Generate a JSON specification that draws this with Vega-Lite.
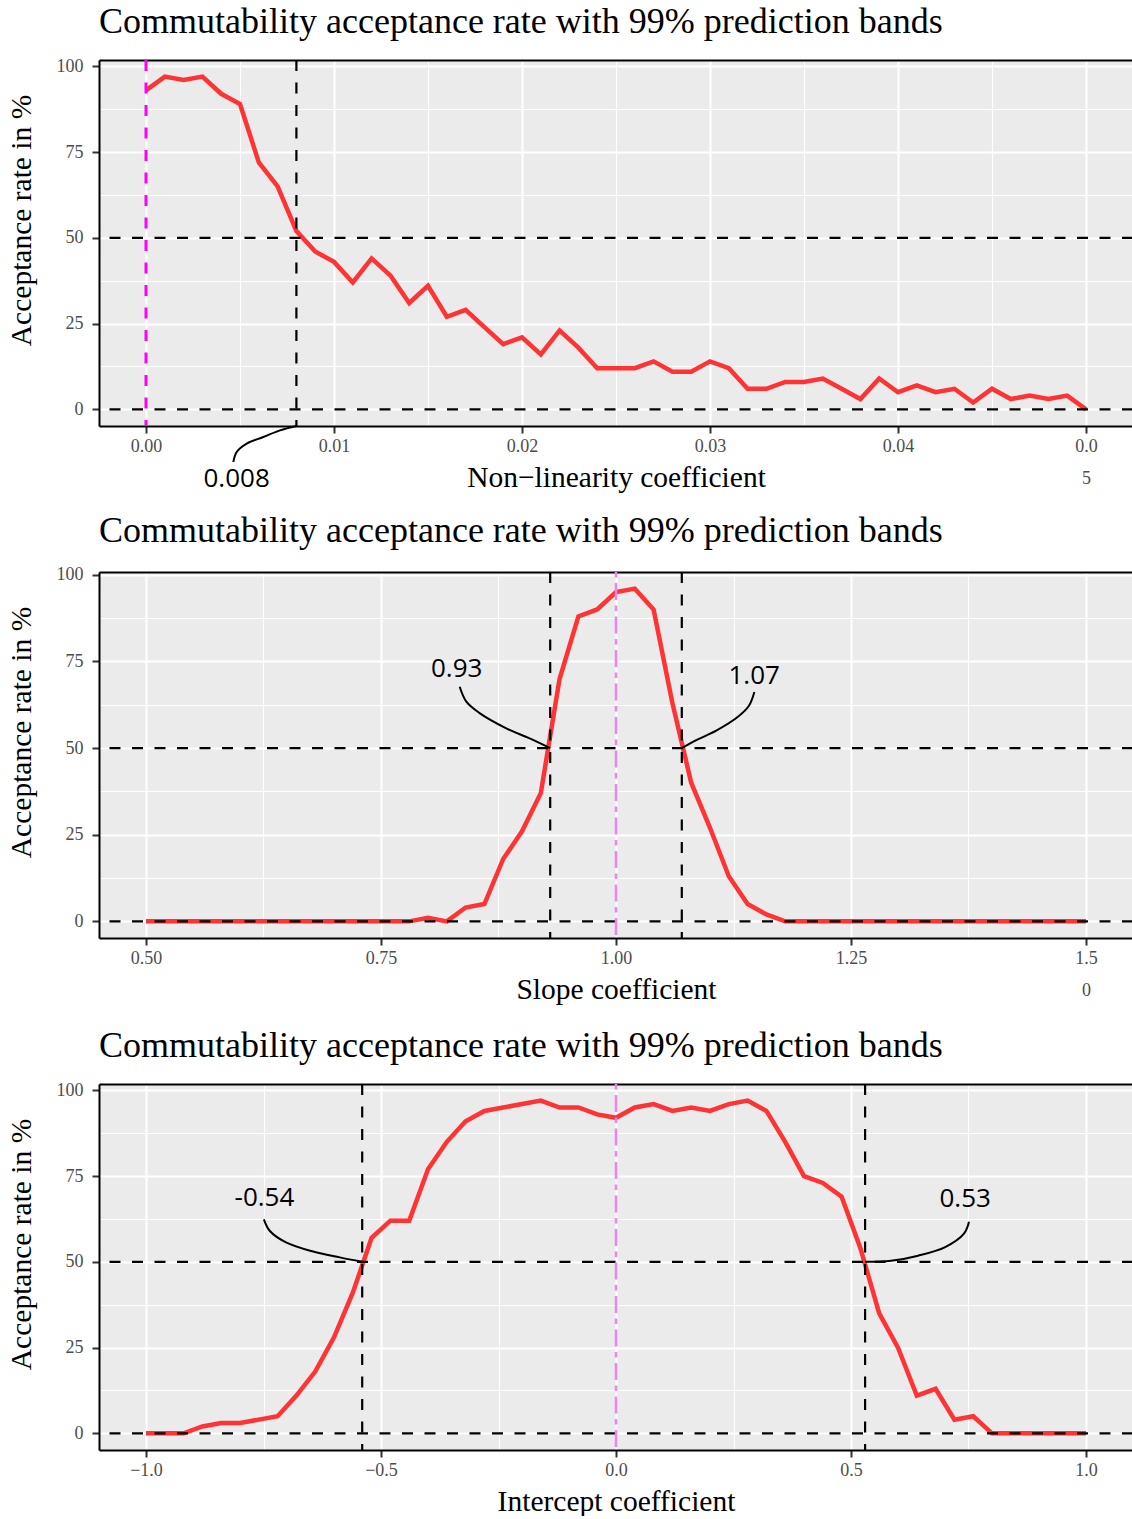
{
  "$schema": "https://vega.github.io/schema/vega-lite/v6.json",
  "background": "white",
  "padding": {"left": 6, "top": 4, "right": 0, "bottom": 0},
  "bounds": "flush",
  "spacing": 146,
  "config": {
    "font": "Liberation Serif",
    "view": {"fill": "#ebebeb", "stroke": null},
    "title": {"font": "Liberation Serif", "fontSize": 36, "fontWeight": "normal", "color": "black", "anchor": "start", "frame": "group", "offset": 16},
    "axis": {
      "labelFont": "Liberation Serif", "labelFontSize": 18, "labelColor": "#4d4d4d",
      "titleFont": "Liberation Serif", "titleFontSize": 29.5, "titleFontWeight": "normal", "titleColor": "black",
      "domainColor": "black", "domainWidth": 2, "tickColor": "#333333", "tickWidth": 2, "tickSize": 7,
      "gridColor": "white", "gridWidth": 2, "labelFlush": false, "labelOverlap": false
    }
  },
  "datasets": {
    "nonlinearity": [
      {"x": 0.000, "rate": 93}, {"x": 0.001, "rate": 97}, {"x": 0.002, "rate": 96}, {"x": 0.003, "rate": 97},
      {"x": 0.004, "rate": 92}, {"x": 0.005, "rate": 89}, {"x": 0.006, "rate": 72}, {"x": 0.007, "rate": 65},
      {"x": 0.008, "rate": 52}, {"x": 0.009, "rate": 46}, {"x": 0.010, "rate": 43}, {"x": 0.011, "rate": 37},
      {"x": 0.012, "rate": 44}, {"x": 0.013, "rate": 39}, {"x": 0.014, "rate": 31}, {"x": 0.015, "rate": 36},
      {"x": 0.016, "rate": 27}, {"x": 0.017, "rate": 29}, {"x": 0.018, "rate": 24}, {"x": 0.019, "rate": 19},
      {"x": 0.020, "rate": 21}, {"x": 0.021, "rate": 16}, {"x": 0.022, "rate": 23}, {"x": 0.023, "rate": 18},
      {"x": 0.024, "rate": 12}, {"x": 0.025, "rate": 12}, {"x": 0.026, "rate": 12}, {"x": 0.027, "rate": 14},
      {"x": 0.028, "rate": 11}, {"x": 0.029, "rate": 11}, {"x": 0.030, "rate": 14}, {"x": 0.031, "rate": 12},
      {"x": 0.032, "rate": 6}, {"x": 0.033, "rate": 6}, {"x": 0.034, "rate": 8}, {"x": 0.035, "rate": 8},
      {"x": 0.036, "rate": 9}, {"x": 0.037, "rate": 6}, {"x": 0.038, "rate": 3}, {"x": 0.039, "rate": 9},
      {"x": 0.040, "rate": 5}, {"x": 0.041, "rate": 7}, {"x": 0.042, "rate": 5}, {"x": 0.043, "rate": 6},
      {"x": 0.044, "rate": 2}, {"x": 0.045, "rate": 6}, {"x": 0.046, "rate": 3}, {"x": 0.047, "rate": 4},
      {"x": 0.048, "rate": 3}, {"x": 0.049, "rate": 4}, {"x": 0.050, "rate": 0}
    ],
    "slope": [
      {"x": 0.50, "rate": 0}, {"x": 0.52, "rate": 0}, {"x": 0.54, "rate": 0}, {"x": 0.56, "rate": 0},
      {"x": 0.58, "rate": 0}, {"x": 0.60, "rate": 0}, {"x": 0.62, "rate": 0}, {"x": 0.64, "rate": 0},
      {"x": 0.66, "rate": 0}, {"x": 0.68, "rate": 0}, {"x": 0.70, "rate": 0}, {"x": 0.72, "rate": 0},
      {"x": 0.74, "rate": 0}, {"x": 0.76, "rate": 0}, {"x": 0.78, "rate": 0}, {"x": 0.80, "rate": 1},
      {"x": 0.82, "rate": 0}, {"x": 0.84, "rate": 4}, {"x": 0.86, "rate": 5}, {"x": 0.88, "rate": 18},
      {"x": 0.90, "rate": 26}, {"x": 0.92, "rate": 37}, {"x": 0.94, "rate": 70}, {"x": 0.96, "rate": 88},
      {"x": 0.98, "rate": 90}, {"x": 1.00, "rate": 95}, {"x": 1.02, "rate": 96}, {"x": 1.04, "rate": 90},
      {"x": 1.06, "rate": 63}, {"x": 1.08, "rate": 40}, {"x": 1.10, "rate": 27}, {"x": 1.12, "rate": 13},
      {"x": 1.14, "rate": 5}, {"x": 1.16, "rate": 2}, {"x": 1.18, "rate": 0}, {"x": 1.20, "rate": 0},
      {"x": 1.22, "rate": 0}, {"x": 1.24, "rate": 0}, {"x": 1.26, "rate": 0}, {"x": 1.28, "rate": 0},
      {"x": 1.30, "rate": 0}, {"x": 1.32, "rate": 0}, {"x": 1.34, "rate": 0}, {"x": 1.36, "rate": 0},
      {"x": 1.38, "rate": 0}, {"x": 1.40, "rate": 0}, {"x": 1.42, "rate": 0}, {"x": 1.44, "rate": 0},
      {"x": 1.46, "rate": 0}, {"x": 1.48, "rate": 0}, {"x": 1.50, "rate": 0}
    ],
    "intercept": [
      {"x": -1.00, "rate": 0}, {"x": -0.96, "rate": 0}, {"x": -0.92, "rate": 0}, {"x": -0.88, "rate": 2},
      {"x": -0.84, "rate": 3}, {"x": -0.80, "rate": 3}, {"x": -0.76, "rate": 4}, {"x": -0.72, "rate": 5},
      {"x": -0.68, "rate": 11}, {"x": -0.64, "rate": 18}, {"x": -0.60, "rate": 28}, {"x": -0.56, "rate": 41},
      {"x": -0.52, "rate": 57}, {"x": -0.48, "rate": 62}, {"x": -0.44, "rate": 62}, {"x": -0.40, "rate": 77},
      {"x": -0.36, "rate": 85}, {"x": -0.32, "rate": 91}, {"x": -0.28, "rate": 94}, {"x": -0.24, "rate": 95},
      {"x": -0.20, "rate": 96}, {"x": -0.16, "rate": 97}, {"x": -0.12, "rate": 95}, {"x": -0.08, "rate": 95},
      {"x": -0.04, "rate": 93}, {"x": 0.00, "rate": 92}, {"x": 0.04, "rate": 95}, {"x": 0.08, "rate": 96},
      {"x": 0.12, "rate": 94}, {"x": 0.16, "rate": 95}, {"x": 0.20, "rate": 94}, {"x": 0.24, "rate": 96},
      {"x": 0.28, "rate": 97}, {"x": 0.32, "rate": 94}, {"x": 0.36, "rate": 85}, {"x": 0.40, "rate": 75},
      {"x": 0.44, "rate": 73}, {"x": 0.48, "rate": 69}, {"x": 0.52, "rate": 54}, {"x": 0.56, "rate": 35},
      {"x": 0.60, "rate": 25}, {"x": 0.64, "rate": 11}, {"x": 0.68, "rate": 13}, {"x": 0.72, "rate": 4},
      {"x": 0.76, "rate": 5}, {"x": 0.80, "rate": 0}, {"x": 0.84, "rate": 0}, {"x": 0.88, "rate": 0},
      {"x": 0.92, "rate": 0}, {"x": 0.96, "rate": 0}, {"x": 1.00, "rate": 0}
    ],
    "levels": [{"y": 0}, {"y": 50}],
    "cuts_nonlinearity": [{"x": 0.008, "label": "0.008", "lx": 0.00482, "ly": -20.4}],
    "cuts_slope": [
      {"x": 0.93, "label": "0.93", "lx": 0.8305, "ly": 72.8},
      {"x": 1.07, "label": "1.07", "lx": 1.147, "ly": 70.8}
    ],
    "cuts_intercept": [
      {"x": -0.54, "label": "-0.54", "lx": -0.748, "ly": 68.5},
      {"x": 0.53, "label": "0.53", "lx": 0.743, "ly": 68.3}
    ],
    "links_nonlinearity": [
      {"g": "a", "x": 0.004644, "y": -15.35}, {"g": "a", "x": 0.004824, "y": -12.44},
      {"g": "a", "x": 0.005356, "y": -9.99}, {"g": "a", "x": 0.006239, "y": -8.07},
      {"g": "a", "x": 0.007128, "y": -6.12}, {"g": "a", "x": 0.008, "y": -4.85}
    ],
    "links_slope": [
      {"g": "a", "x": 0.8337, "y": 67.7}, {"g": "a", "x": 0.8408, "y": 63.4}, {"g": "a", "x": 0.8549, "y": 60.1},
      {"g": "a", "x": 0.8833, "y": 55.7}, {"g": "a", "x": 0.9081, "y": 52.8}, {"g": "a", "x": 0.93, "y": 50},
      {"g": "b", "x": 1.1472, "y": 66.2}, {"g": "b", "x": 1.1414, "y": 62.2}, {"g": "b", "x": 1.1301, "y": 59.1},
      {"g": "b", "x": 1.1071, "y": 55.1}, {"g": "b", "x": 1.0871, "y": 52.5}, {"g": "b", "x": 1.07, "y": 50}
    ],
    "links_intercept": [
      {"g": "a", "x": -0.7492, "y": 62.4}, {"g": "a", "x": -0.7364, "y": 59.0}, {"g": "a", "x": -0.701, "y": 55.6},
      {"g": "a", "x": -0.6444, "y": 53.0}, {"g": "a", "x": -0.5877, "y": 51.3}, {"g": "a", "x": -0.54, "y": 50},
      {"g": "b", "x": 0.7511, "y": 61.7}, {"g": "b", "x": 0.7403, "y": 58.2}, {"g": "b", "x": 0.7005, "y": 54.3},
      {"g": "b", "x": 0.6429, "y": 51.8}, {"g": "b", "x": 0.5851, "y": 50.3}, {"g": "b", "x": 0.53, "y": 50}
    ]
  },
  "vconcat": [
    {
      "title": "Commutability acceptance rate with 99% prediction bands",
      "width": 1034,
      "height": 366,
      "resolve": {"axis": {"x": "independent", "y": "independent"}},
      "layer": [
        {
          "data": {"name": "nonlinearity"},
          "mark": {"type": "line", "color": "#ff3333", "strokeWidth": 4.5},
          "encoding": {
            "x": {"field": "x", "type": "quantitative", "scale": {"domain": [-0.0025, 0.0525], "nice": false, "zero": false},
              "axis": {"orient": "bottom", "values": [0, 0.01, 0.02, 0.03, 0.04, 0.05],
                "labelExpr": "datum.value > 0.045 ? ['0.0', '5'] : format(datum.value, '.2f')",
                "labelLineHeight": 32, "labelPadding": 4,
                "title": "Non−linearity coefficient", "titleY": 60, "titleBaseline": "alphabetic"}},
            "y": {"field": "rate", "type": "quantitative", "scale": {"domain": [-4.85, 101.85], "nice": false, "zero": false},
              "axis": {"orient": "left", "values": [0, 25, 50, 75, 100], "labelPadding": 9,
                "title": "Acceptance rate in %", "titleX": -69, "titleY": 160, "titleBaseline": "alphabetic", "titleAlign": "center", "titleAngle": -90}}
          }
        },
        {
          "data": {"name": "levels"},
          "mark": {"type": "rule", "color": "black", "strokeWidth": 2.2, "strokeDash": [11, 11.5]},
          "encoding": {
            "y": {"field": "y", "type": "quantitative", "scale": {"domain": [-4.85, 101.85], "nice": false, "zero": false},
              "axis": {"orient": "right", "values": [12.5, 37.5, 62.5, 87.5], "grid": true, "gridWidth": 1.1, "domain": false, "ticks": false, "labels": false, "title": null}}
          }
        },
        {
          "data": {"name": "cuts_nonlinearity"},
          "mark": {"type": "rule", "color": "black", "strokeWidth": 2.2, "strokeDash": [11, 11.5]},
          "encoding": {
            "x": {"field": "x", "type": "quantitative", "scale": {"domain": [-0.0025, 0.0525], "nice": false, "zero": false},
              "axis": {"orient": "top", "values": [0.005, 0.015, 0.025, 0.035, 0.045], "grid": true, "gridWidth": 1.1, "domain": true, "ticks": false, "labels": false, "title": null}}
          }
        },
        {
          "data": {"values": [{"x": 0}]},
          "mark": {"type": "rule", "color": "#ff00ff", "strokeWidth": 3, "strokeDash": [11, 11.5]},
          "encoding": {
            "x": {"field": "x", "type": "quantitative", "scale": {"domain": [-0.0025, 0.0525], "nice": false, "zero": false}, "axis": null}
          }
        },
        {
          "data": {"name": "links_nonlinearity"},
          "mark": {"type": "line", "color": "black", "strokeWidth": 2, "interpolate": "catmull-rom"},
          "encoding": {
            "x": {"field": "x", "type": "quantitative", "scale": {"domain": [-0.0025, 0.0525], "nice": false, "zero": false}, "axis": null},
            "y": {"field": "y", "type": "quantitative", "scale": {"domain": [-4.85, 101.85], "nice": false, "zero": false}, "axis": null},
            "detail": {"field": "g"},
            "order": {"value": null}
          }
        },
        {
          "data": {"name": "cuts_nonlinearity"},
          "mark": {"type": "text", "font": "Open Sans", "fontSize": 26, "color": "black", "align": "center", "baseline": "middle"},
          "encoding": {
            "x": {"field": "lx", "type": "quantitative", "scale": {"domain": [-0.0025, 0.0525], "nice": false, "zero": false}, "axis": null},
            "y": {"field": "ly", "type": "quantitative", "scale": {"domain": [-4.85, 101.85], "nice": false, "zero": false}, "axis": null},
            "text": {"field": "label"}
          }
        }
      ]
    },
    {
      "title": "Commutability acceptance rate with 99% prediction bands",
      "width": 1034,
      "height": 366,
      "resolve": {"axis": {"x": "independent", "y": "independent"}},
      "layer": [
        {
          "data": {"name": "slope"},
          "mark": {"type": "line", "color": "#ff3333", "strokeWidth": 4.5},
          "encoding": {
            "x": {"field": "x", "type": "quantitative", "scale": {"domain": [0.45, 1.55], "nice": false, "zero": false},
              "axis": {"orient": "bottom", "values": [0.5, 0.75, 1, 1.25, 1.5],
                "labelExpr": "datum.value > 1.4 ? ['1.5', '0'] : format(datum.value, '.2f')",
                "labelLineHeight": 32, "labelPadding": 4,
                "title": "Slope coefficient", "titleY": 60, "titleBaseline": "alphabetic"}},
            "y": {"field": "rate", "type": "quantitative", "scale": {"domain": [-4.8, 100.8], "nice": false, "zero": false},
              "axis": {"orient": "left", "values": [0, 25, 50, 75, 100], "labelPadding": 9,
                "title": "Acceptance rate in %", "titleX": -69, "titleY": 160, "titleBaseline": "alphabetic", "titleAlign": "center", "titleAngle": -90}}
          }
        },
        {
          "data": {"name": "levels"},
          "mark": {"type": "rule", "color": "black", "strokeWidth": 2.2, "strokeDash": [11, 11.5]},
          "encoding": {
            "y": {"field": "y", "type": "quantitative", "scale": {"domain": [-4.8, 100.8], "nice": false, "zero": false},
              "axis": {"orient": "right", "values": [12.5, 37.5, 62.5, 87.5], "grid": true, "gridWidth": 1.1, "domain": false, "ticks": false, "labels": false, "title": null}}
          }
        },
        {
          "data": {"name": "cuts_slope"},
          "mark": {"type": "rule", "color": "black", "strokeWidth": 2.2, "strokeDash": [11, 11.5]},
          "encoding": {
            "x": {"field": "x", "type": "quantitative", "scale": {"domain": [0.45, 1.55], "nice": false, "zero": false},
              "axis": {"orient": "top", "values": [0.625, 0.875, 1.125, 1.375], "grid": true, "gridWidth": 1.1, "domain": true, "ticks": false, "labels": false, "title": null}}
          }
        },
        {
          "data": {"values": [{"x": 1}]},
          "mark": {"type": "rule", "color": "#ee82ee", "strokeWidth": 2.5, "strokeDash": [5.5, 5.5, 17, 5.5]},
          "encoding": {
            "x": {"field": "x", "type": "quantitative", "scale": {"domain": [0.45, 1.55], "nice": false, "zero": false}, "axis": null}
          }
        },
        {
          "data": {"name": "links_slope"},
          "mark": {"type": "line", "color": "black", "strokeWidth": 2, "interpolate": "catmull-rom"},
          "encoding": {
            "x": {"field": "x", "type": "quantitative", "scale": {"domain": [0.45, 1.55], "nice": false, "zero": false}, "axis": null},
            "y": {"field": "y", "type": "quantitative", "scale": {"domain": [-4.8, 100.8], "nice": false, "zero": false}, "axis": null},
            "detail": {"field": "g"},
            "order": {"value": null}
          }
        },
        {
          "data": {"name": "cuts_slope"},
          "mark": {"type": "text", "font": "Open Sans", "fontSize": 26, "color": "black", "align": "center", "baseline": "middle"},
          "encoding": {
            "x": {"field": "lx", "type": "quantitative", "scale": {"domain": [0.45, 1.55], "nice": false, "zero": false}, "axis": null},
            "y": {"field": "ly", "type": "quantitative", "scale": {"domain": [-4.8, 100.8], "nice": false, "zero": false}, "axis": null},
            "text": {"field": "label"}
          }
        }
      ]
    },
    {
      "title": "Commutability acceptance rate with 99% prediction bands",
      "width": 1034,
      "height": 366,
      "resolve": {"axis": {"x": "independent", "y": "independent"}},
      "layer": [
        {
          "data": {"name": "intercept"},
          "mark": {"type": "line", "color": "#ff3333", "strokeWidth": 4.5},
          "encoding": {
            "x": {"field": "x", "type": "quantitative", "scale": {"domain": [-1.1, 1.1], "nice": false, "zero": false},
              "axis": {"orient": "bottom", "values": [-1, -0.5, 0, 0.5, 1], "format": ".1f", "labelPadding": 4,
                "title": "Intercept coefficient", "titleY": 60, "titleBaseline": "alphabetic"}},
            "y": {"field": "rate", "type": "quantitative", "scale": {"domain": [-4.85, 101.85], "nice": false, "zero": false},
              "axis": {"orient": "left", "values": [0, 25, 50, 75, 100], "labelPadding": 9,
                "title": "Acceptance rate in %", "titleX": -69, "titleY": 160, "titleBaseline": "alphabetic", "titleAlign": "center", "titleAngle": -90}}
          }
        },
        {
          "data": {"name": "levels"},
          "mark": {"type": "rule", "color": "black", "strokeWidth": 2.2, "strokeDash": [11, 11.5]},
          "encoding": {
            "y": {"field": "y", "type": "quantitative", "scale": {"domain": [-4.85, 101.85], "nice": false, "zero": false},
              "axis": {"orient": "right", "values": [12.5, 37.5, 62.5, 87.5], "grid": true, "gridWidth": 1.1, "domain": false, "ticks": false, "labels": false, "title": null}}
          }
        },
        {
          "data": {"name": "cuts_intercept"},
          "mark": {"type": "rule", "color": "black", "strokeWidth": 2.2, "strokeDash": [11, 11.5]},
          "encoding": {
            "x": {"field": "x", "type": "quantitative", "scale": {"domain": [-1.1, 1.1], "nice": false, "zero": false},
              "axis": {"orient": "top", "values": [-0.75, -0.25, 0.25, 0.75], "grid": true, "gridWidth": 1.1, "domain": true, "ticks": false, "labels": false, "title": null}}
          }
        },
        {
          "data": {"values": [{"x": 0}]},
          "mark": {"type": "rule", "color": "#ee82ee", "strokeWidth": 2.5, "strokeDash": [5.5, 5.5, 17, 5.5]},
          "encoding": {
            "x": {"field": "x", "type": "quantitative", "scale": {"domain": [-1.1, 1.1], "nice": false, "zero": false}, "axis": null}
          }
        },
        {
          "data": {"name": "links_intercept"},
          "mark": {"type": "line", "color": "black", "strokeWidth": 2, "interpolate": "catmull-rom"},
          "encoding": {
            "x": {"field": "x", "type": "quantitative", "scale": {"domain": [-1.1, 1.1], "nice": false, "zero": false}, "axis": null},
            "y": {"field": "y", "type": "quantitative", "scale": {"domain": [-4.85, 101.85], "nice": false, "zero": false}, "axis": null},
            "detail": {"field": "g"},
            "order": {"value": null}
          }
        },
        {
          "data": {"name": "cuts_intercept"},
          "mark": {"type": "text", "font": "Open Sans", "fontSize": 26, "color": "black", "align": "center", "baseline": "middle"},
          "encoding": {
            "x": {"field": "lx", "type": "quantitative", "scale": {"domain": [-1.1, 1.1], "nice": false, "zero": false}, "axis": null},
            "y": {"field": "ly", "type": "quantitative", "scale": {"domain": [-4.85, 101.85], "nice": false, "zero": false}, "axis": null},
            "text": {"field": "label"}
          }
        }
      ]
    }
  ]
}
